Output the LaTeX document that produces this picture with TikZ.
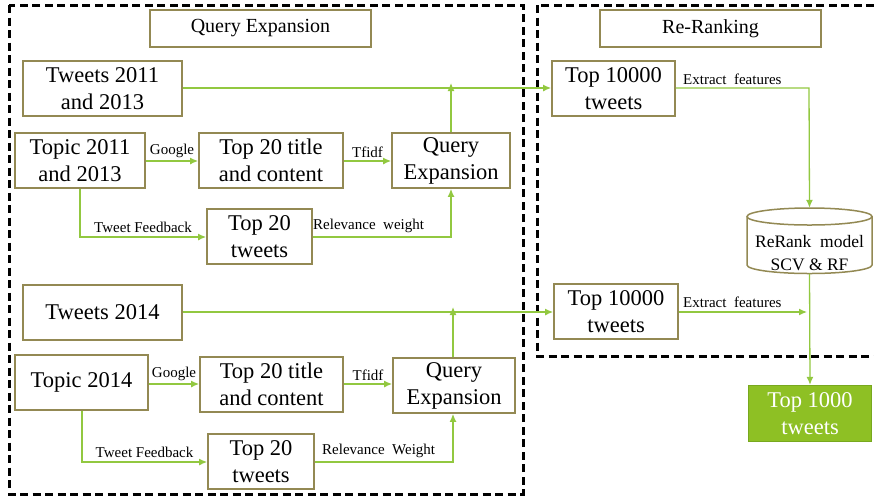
\documentclass[tikz,border=0pt]{standalone}
\usepackage{fontspec}
\setmainfont{Liberation Serif}
\usetikzlibrary{arrows.meta}
\definecolor{olive}{HTML}{938953}
\definecolor{lime}{HTML}{92C840}
\definecolor{limefill}{HTML}{8EC024}
\definecolor{limeedge}{HTML}{78A81E}
\tikzset{
  box/.style={draw=olive, line width=1.8pt, fill=white, inner sep=0pt, align=center,
    font=\fontsize{22.5}{27}\selectfont},
  titlebox/.style={draw=olive, line width=1.8pt, inner sep=0pt, align=center,
    font=\fontsize{20}{24}\selectfont},
  flow/.style={draw=lime, line width=1.3pt, -{Latex[length=8pt,width=7pt]}},
  lbl/.style={font=\fontsize{15}{17}\selectfont, inner sep=0pt},
  frame/.style={draw=black, line width=3pt, dash pattern=on 8pt off 4.5pt},
}
\newcommand{\boxat}[6]{% name, x1, y1, x2, y2, text
  \node[box, minimum width={#4-#2}, minimum height={#5-#3}] (#1) at ({(#2+#4)/2},{(#3+#5)/2}) {#6};}
\begin{document}
\begin{tikzpicture}[x=1pt,y=-1pt]
\useasboundingbox (0,0) rectangle (874,499);
\fill[white] (0,0) rectangle (874,499);

% dashed frames of the two stages
\draw[frame] (9,5) rectangle (523,494);
\draw[frame] (537,5) rectangle (892,356);

% stage titles
\node[titlebox, minimum width=221, minimum height=37] (qetitle) at (260.5,28.5) {Query Expansion};
\node[titlebox, minimum width=221, minimum height=37] (rrtitle) at (710.5,28.5) {Re-Ranking};

% upper branch: 2011 and 2013
\boxat{tw1}{23}{61}{182}{116}{Tweets 2011\\and 2013}
\boxat{tp1}{15}{133}{145}{188}{Topic 2011\\and 2013}
\boxat{tt1}{199}{133}{343}{188}{Top 20 title\\and content}
\boxat{qe1}{392}{133}{510}{188}{Query\\Expansion}
\boxat{tf1}{207}{209}{312}{264}{Top 20\\tweets}
\boxat{tk1}{552}{61}{675}{116}{Top 10000\\tweets}

% lower branch: 2014
\boxat{tw2}{23}{285}{182}{340}{Tweets 2014}
\boxat{tp2}{15}{355}{148}{410}{Topic 2014}
\boxat{tt2}{200}{357}{343}{412}{Top 20 title\\and content}
\boxat{qe2}{393}{358}{515}{413}{Query\\Expansion}
\boxat{tf2}{208}{434}{314}{489}{Top 20\\tweets}
\boxat{tk2}{554}{284}{678}{339}{Top 10000\\tweets}

% re-ranking model: a drum with its caption (y axis points down, so angle 90 is below)
\node[minimum width=125, minimum height=65.5, inner sep=0pt] (model) at (809.5,240.75) {};
\fill[white] (747,216.5) -- (747,265) arc[start angle=180, end angle=0, x radius=62.5, y radius=8.5]
  -- (872,216.5) arc[start angle=0, end angle=-180, x radius=62.5, y radius=8.5] -- cycle;
\draw[olive, line width=1.5pt] (747,216.5) -- (747,265)
  arc[start angle=180, end angle=0, x radius=62.5, y radius=8.5] -- (872,216.5);
\draw[olive, line width=1.5pt] (809.5,216.5) ellipse[x radius=62.5, y radius=8.5];
\node[align=center, inner sep=0pt, font=\fontsize{17.5}{23}\selectfont] (modeltxt) at (809.5,253)
  {ReRank\ \ model\\SCV \& RF};

\node[box, fill=limefill, draw=limeedge, line width=1.3pt, text=white,
  minimum width=123, minimum height=56] (final) at (810,413.5) {Top 1000\\tweets};

% connectors, upper branch
\coordinate (j1) at (451,88);
\draw[flow] (tw1.east |- 0,88) -- (tk1.west |- 0,88);
\draw[flow] (qe1.north -| j1) -- ([yshift=5pt]j1);
\draw[flow] (tp1.east |- 0,161) -- node[lbl, above=3pt] {Google} (tt1.west |- 0,161);
\draw[flow] (tt1.east |- 0,161) -- node[lbl, above=3pt] {Tfidf} (qe1.west |- 0,161);
\coordinate (c1) at (80,237);
\draw[flow] (tp1.south -| c1) -- (c1) -- node[lbl, above=4pt] {Tweet Feedback} (tf1.west |- c1);
\coordinate (d1) at (451,237);
\draw[flow] (tf1.east |- d1) -- (d1) -- (qe1.south -| d1);
\node[lbl, anchor=south west] (rw1) at (313,233) {Relevance\ \ weight};
\coordinate (e1) at (809,88);
\draw[flow] (tk1.east |- e1) -- (e1) -- (model.north);
\node[lbl, anchor=south west] (ef1) at (683,85) {Extract\ \ features};

% connectors, lower branch
\coordinate (j2) at (453,312);
\draw[flow] (tw2.east |- 0,312) -- (tk2.west |- 0,312);
\draw[flow] (qe2.north -| j2) -- ([yshift=5pt]j2);
\draw[flow] (tp2.east |- 0,384) -- node[lbl, above=3pt] {Google} (tt2.west |- 0,384);
\draw[flow] (tt2.east |- 0,384) -- node[lbl, above=3pt] {Tfidf} (qe2.west |- 0,384);
\coordinate (c2) at (82,462);
\draw[flow] (tp2.south -| c2) -- (c2) -- node[lbl, above=4pt] {Tweet Feedback} (tf2.west |- c2);
\coordinate (d2) at (453,462);
\draw[flow] (tf2.east |- d2) -- (d2) -- (qe2.south -| d2);
\node[lbl, anchor=south west] (rw2) at (322,458) {Relevance\ \ Weight};
\coordinate (e2) at (807,312);
\draw[flow] (tk2.east |- e2) -- (e2);
\node[lbl, anchor=south west] (ef2) at (683,308) {Extract\ \ features};
\draw[flow] (model.south) -- (final.north);
\end{tikzpicture}
\end{document}
